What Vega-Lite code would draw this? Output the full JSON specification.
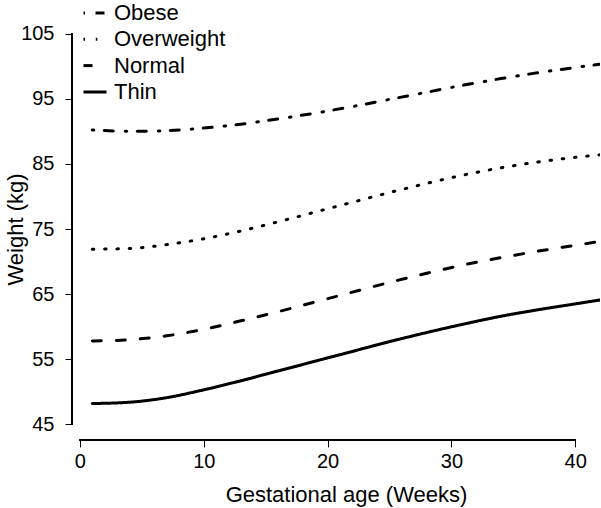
{
  "$schema": "https://vega.github.io/schema/vega-lite/v6.json",
  "width": 528,
  "height": 422,
  "autosize": {"type": "none"},
  "padding": {"left": 72, "top": 18, "right": 1, "bottom": 68},
  "background": "white",
  "config": {
    "view": {"stroke": null},
    "font": "Liberation Sans",
    "axis": {"grid": false, "domain": false, "tickColor": "black", "tickSize": 7, "tickWidth": 1, "labelColor": "black", "titleColor": "black", "labelFontSize": 20, "titleFontSize": 22, "titleFontWeight": "normal", "labelFont": "Liberation Sans", "titleFont": "Liberation Sans"}
  },
  "data": {"values": [
    {"week": 1, "weight": 48.2, "group": "Thin"},
    {"week": 4, "weight": 48.4, "group": "Thin"},
    {"week": 7, "weight": 49.1, "group": "Thin"},
    {"week": 10, "weight": 50.3, "group": "Thin"},
    {"week": 13, "weight": 51.7, "group": "Thin"},
    {"week": 16, "weight": 53.2, "group": "Thin"},
    {"week": 19, "weight": 54.7, "group": "Thin"},
    {"week": 22, "weight": 56.2, "group": "Thin"},
    {"week": 25, "weight": 57.7, "group": "Thin"},
    {"week": 28, "weight": 59.1, "group": "Thin"},
    {"week": 31, "weight": 60.4, "group": "Thin"},
    {"week": 34, "weight": 61.6, "group": "Thin"},
    {"week": 37, "weight": 62.6, "group": "Thin"},
    {"week": 40, "weight": 63.5, "group": "Thin"},
    {"week": 42, "weight": 64.1, "group": "Thin"},
    {"week": 1, "weight": 57.8, "group": "Normal"},
    {"week": 4, "weight": 58.0, "group": "Normal"},
    {"week": 7, "weight": 58.6, "group": "Normal"},
    {"week": 10, "weight": 59.6, "group": "Normal"},
    {"week": 13, "weight": 60.9, "group": "Normal"},
    {"week": 16, "weight": 62.3, "group": "Normal"},
    {"week": 19, "weight": 63.8, "group": "Normal"},
    {"week": 22, "weight": 65.3, "group": "Normal"},
    {"week": 25, "weight": 66.8, "group": "Normal"},
    {"week": 28, "weight": 68.2, "group": "Normal"},
    {"week": 31, "weight": 69.5, "group": "Normal"},
    {"week": 34, "weight": 70.6, "group": "Normal"},
    {"week": 37, "weight": 71.6, "group": "Normal"},
    {"week": 40, "weight": 72.5, "group": "Normal"},
    {"week": 42, "weight": 73.1, "group": "Normal"},
    {"week": 1, "weight": 71.9, "group": "Overweight"},
    {"week": 4, "weight": 72.0, "group": "Overweight"},
    {"week": 7, "weight": 72.6, "group": "Overweight"},
    {"week": 10, "weight": 73.5, "group": "Overweight"},
    {"week": 13, "weight": 74.7, "group": "Overweight"},
    {"week": 16, "weight": 76.1, "group": "Overweight"},
    {"week": 19, "weight": 77.6, "group": "Overweight"},
    {"week": 22, "weight": 79.1, "group": "Overweight"},
    {"week": 25, "weight": 80.6, "group": "Overweight"},
    {"week": 28, "weight": 82.0, "group": "Overweight"},
    {"week": 31, "weight": 83.3, "group": "Overweight"},
    {"week": 34, "weight": 84.4, "group": "Overweight"},
    {"week": 37, "weight": 85.3, "group": "Overweight"},
    {"week": 40, "weight": 86.0, "group": "Overweight"},
    {"week": 42, "weight": 86.4, "group": "Overweight"},
    {"week": 1, "weight": 90.2, "group": "Obese"},
    {"week": 4, "weight": 90.0, "group": "Obese"},
    {"week": 7, "weight": 90.1, "group": "Obese"},
    {"week": 10, "weight": 90.5, "group": "Obese"},
    {"week": 13, "weight": 91.1, "group": "Obese"},
    {"week": 16, "weight": 91.9, "group": "Obese"},
    {"week": 19, "weight": 92.8, "group": "Obese"},
    {"week": 22, "weight": 93.8, "group": "Obese"},
    {"week": 25, "weight": 94.9, "group": "Obese"},
    {"week": 28, "weight": 96.0, "group": "Obese"},
    {"week": 31, "weight": 97.1, "group": "Obese"},
    {"week": 34, "weight": 98.1, "group": "Obese"},
    {"week": 37, "weight": 99.0, "group": "Obese"},
    {"week": 40, "weight": 99.8, "group": "Obese"},
    {"week": 42, "weight": 100.3, "group": "Obese"}
  ]},
  "layer": [
    {
      "mark": {"type": "line", "color": "black", "strokeWidth": 3, "strokeCap": "round", "interpolate": "monotone", "clip": true},
      "encoding": {
        "x": {"field": "week", "type": "quantitative", "scale": {"domain": [-0.64, 42.0], "nice": false, "zero": false},
              "axis": {"values": [0, 10, 20, 30, 40], "title": "Gestational age (Weeks)", "labelPadding": 4, "titleX": 274, "titleY": 61, "titleBaseline": "alphabetic", "titleAlign": "center", "titleAnchor": null}},
        "y": {"field": "weight", "type": "quantitative", "scale": {"domain": [42.6, 107.4], "nice": false, "zero": false},
              "axis": {"values": [45, 55, 65, 75, 85, 95, 105], "title": "Weight (kg)", "labelPadding": 11, "titleX": -50, "titleBaseline": "alphabetic"}},
        "strokeDash": {"field": "group", "type": "nominal",
              "scale": {"domain": ["Obese", "Overweight", "Normal", "Thin"], "range": [[1.5, 10.5, 9, 12], [1.5, 10.8], [9, 15], [1, 0]]},
              "legend": {"title": null, "orient": "none", "legendX": 10, "legendY": -18, "symbolType": "stroke", "symbolStrokeWidth": 3, "symbolStrokeColor": "black", "symbolSize": 529, "labelFontSize": 22, "labelFont": "Liberation Sans", "labelColor": "black", "labelOffset": 6, "rowPadding": 2.3, "padding": 0}}
      }
    },
    {
      "mark": {"type": "rule", "color": "black", "strokeWidth": 1},
      "encoding": {"x": {"datum": 0}, "x2": {"datum": 40}, "y": {"datum": 42.6}}
    },
    {
      "mark": {"type": "rule", "color": "black", "strokeWidth": 1},
      "encoding": {"x": {"datum": -0.64}, "y": {"datum": 45}, "y2": {"datum": 105}}
    }
  ]
}
